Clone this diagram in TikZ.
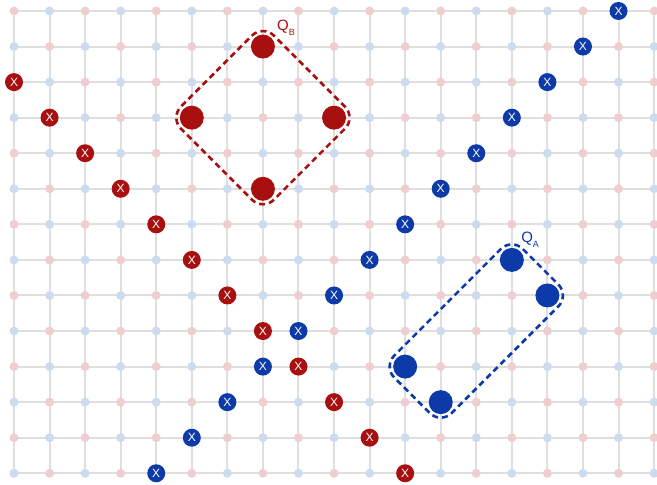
\documentclass[tikz,border=0pt]{standalone}
\usepackage{fontspec}
\setmainfont{Liberation Sans}
\usetikzlibrary{calc}
\definecolor{qred}{HTML}{A81010}
\definecolor{qblue}{HTML}{0C3AA8}
\definecolor{gridgray}{HTML}{DFDFDF}
\definecolor{dotpink}{HTML}{EFCED2}
\definecolor{dotblue}{HTML}{CDDBEE}
\newcommand{\qlabel}[1]{Q\raisebox{-0.3em}{\fontsize{9}{9}\selectfont #1}}
\begin{document}
\begin{tikzpicture}[x=35.56pt,y=-35.56pt,
  gridline/.style={draw=gridgray,line width=2pt},
  smalldot/.style={circle,inner sep=0pt,minimum size=9pt},
  xmark/.style={circle,inner sep=0pt,minimum size=18pt,text=white,font=\fontsize{12}{12}\selectfont},
  bigdot/.style={circle,inner sep=0pt,minimum size=24pt},
  hull/.style={dash pattern=on 6pt off 4pt,line width=2.6pt,rounded corners=15.5pt},
  qlab/.style={font=\fontsize{15}{15}\selectfont,anchor=base west,inner sep=0pt}]
\useasboundingbox (-0.394,-0.309) rectangle (18.082,13.33);
% grid
\foreach \i in {0,...,18} \draw[gridline] (\i,0) -- (\i,13);
\foreach \j in {0,...,13} \draw[gridline] (0,\j) -- (18.1,\j);
% small dots
\foreach \i in {0,...,18} {
  \foreach \j in {0,...,13} {
    \pgfmathtruncatemacro{\parity}{mod(\i+\j,2)}
    \ifnum\parity=0
      \node[smalldot,fill=dotpink] (d-\i-\j) at (\i,\j) {};
    \else
      \node[smalldot,fill=dotblue] (d-\i-\j) at (\i,\j) {};
    \fi
  }
}
% X marks
\foreach \i in {0,...,11} \node[xmark,fill=qred] (rx\i) at (\i,\i+2) {X};
\foreach \i in {0,...,13} \node[xmark,fill=qblue] (bx\i) at (17-\i,\i) {X};
% big dots Q_B
\node[bigdot,fill=qred] (bT) at (7,1) {};
\node[bigdot,fill=qred] (bL) at (5,3) {};
\node[bigdot,fill=qred] (bR) at (9,3) {};
\node[bigdot,fill=qred] (bB) at (7,5) {};
% big dots Q_A
\node[bigdot,fill=qblue] (aT) at (14,7) {};
\node[bigdot,fill=qblue] (aR) at (15,8) {};
\node[bigdot,fill=qblue] (aB) at (12,11) {};
\node[bigdot,fill=qblue] (aL) at (11,10) {};
% hulls
\def\off{21.9pt}
\draw[hull,qred] ($(bL)!0.5!(bT)+(-10.96pt,10.96pt)$) -- ($(bT)+(0pt,\off)$) -- ($(bR)+(\off,0pt)$) -- ($(bB)+(0pt,-\off)$) -- ($(bL)+(-\off,0pt)$) -- ($(bL)!0.5!(bT)+(-10.96pt,10.96pt)$);
\draw[hull,qblue] ($(aL)!0.5!(aT)+(-10.96pt,10.96pt)$) -- ($(aT)+(0pt,\off)$) -- ($(aR)+(\off,0pt)$) -- ($(aB)+(0pt,-\off)$) -- ($(aL)+(-\off,0pt)$) -- ($(aL)!0.5!(aT)+(-10.96pt,10.96pt)$);
% labels
\node[qlab,text=qred] (qb) at (7.396,0.562) {\qlabel{B}};
\node[qlab,text=qblue] (qa) at (14.26,6.524) {\qlabel{A}};
\end{tikzpicture}
\end{document}
